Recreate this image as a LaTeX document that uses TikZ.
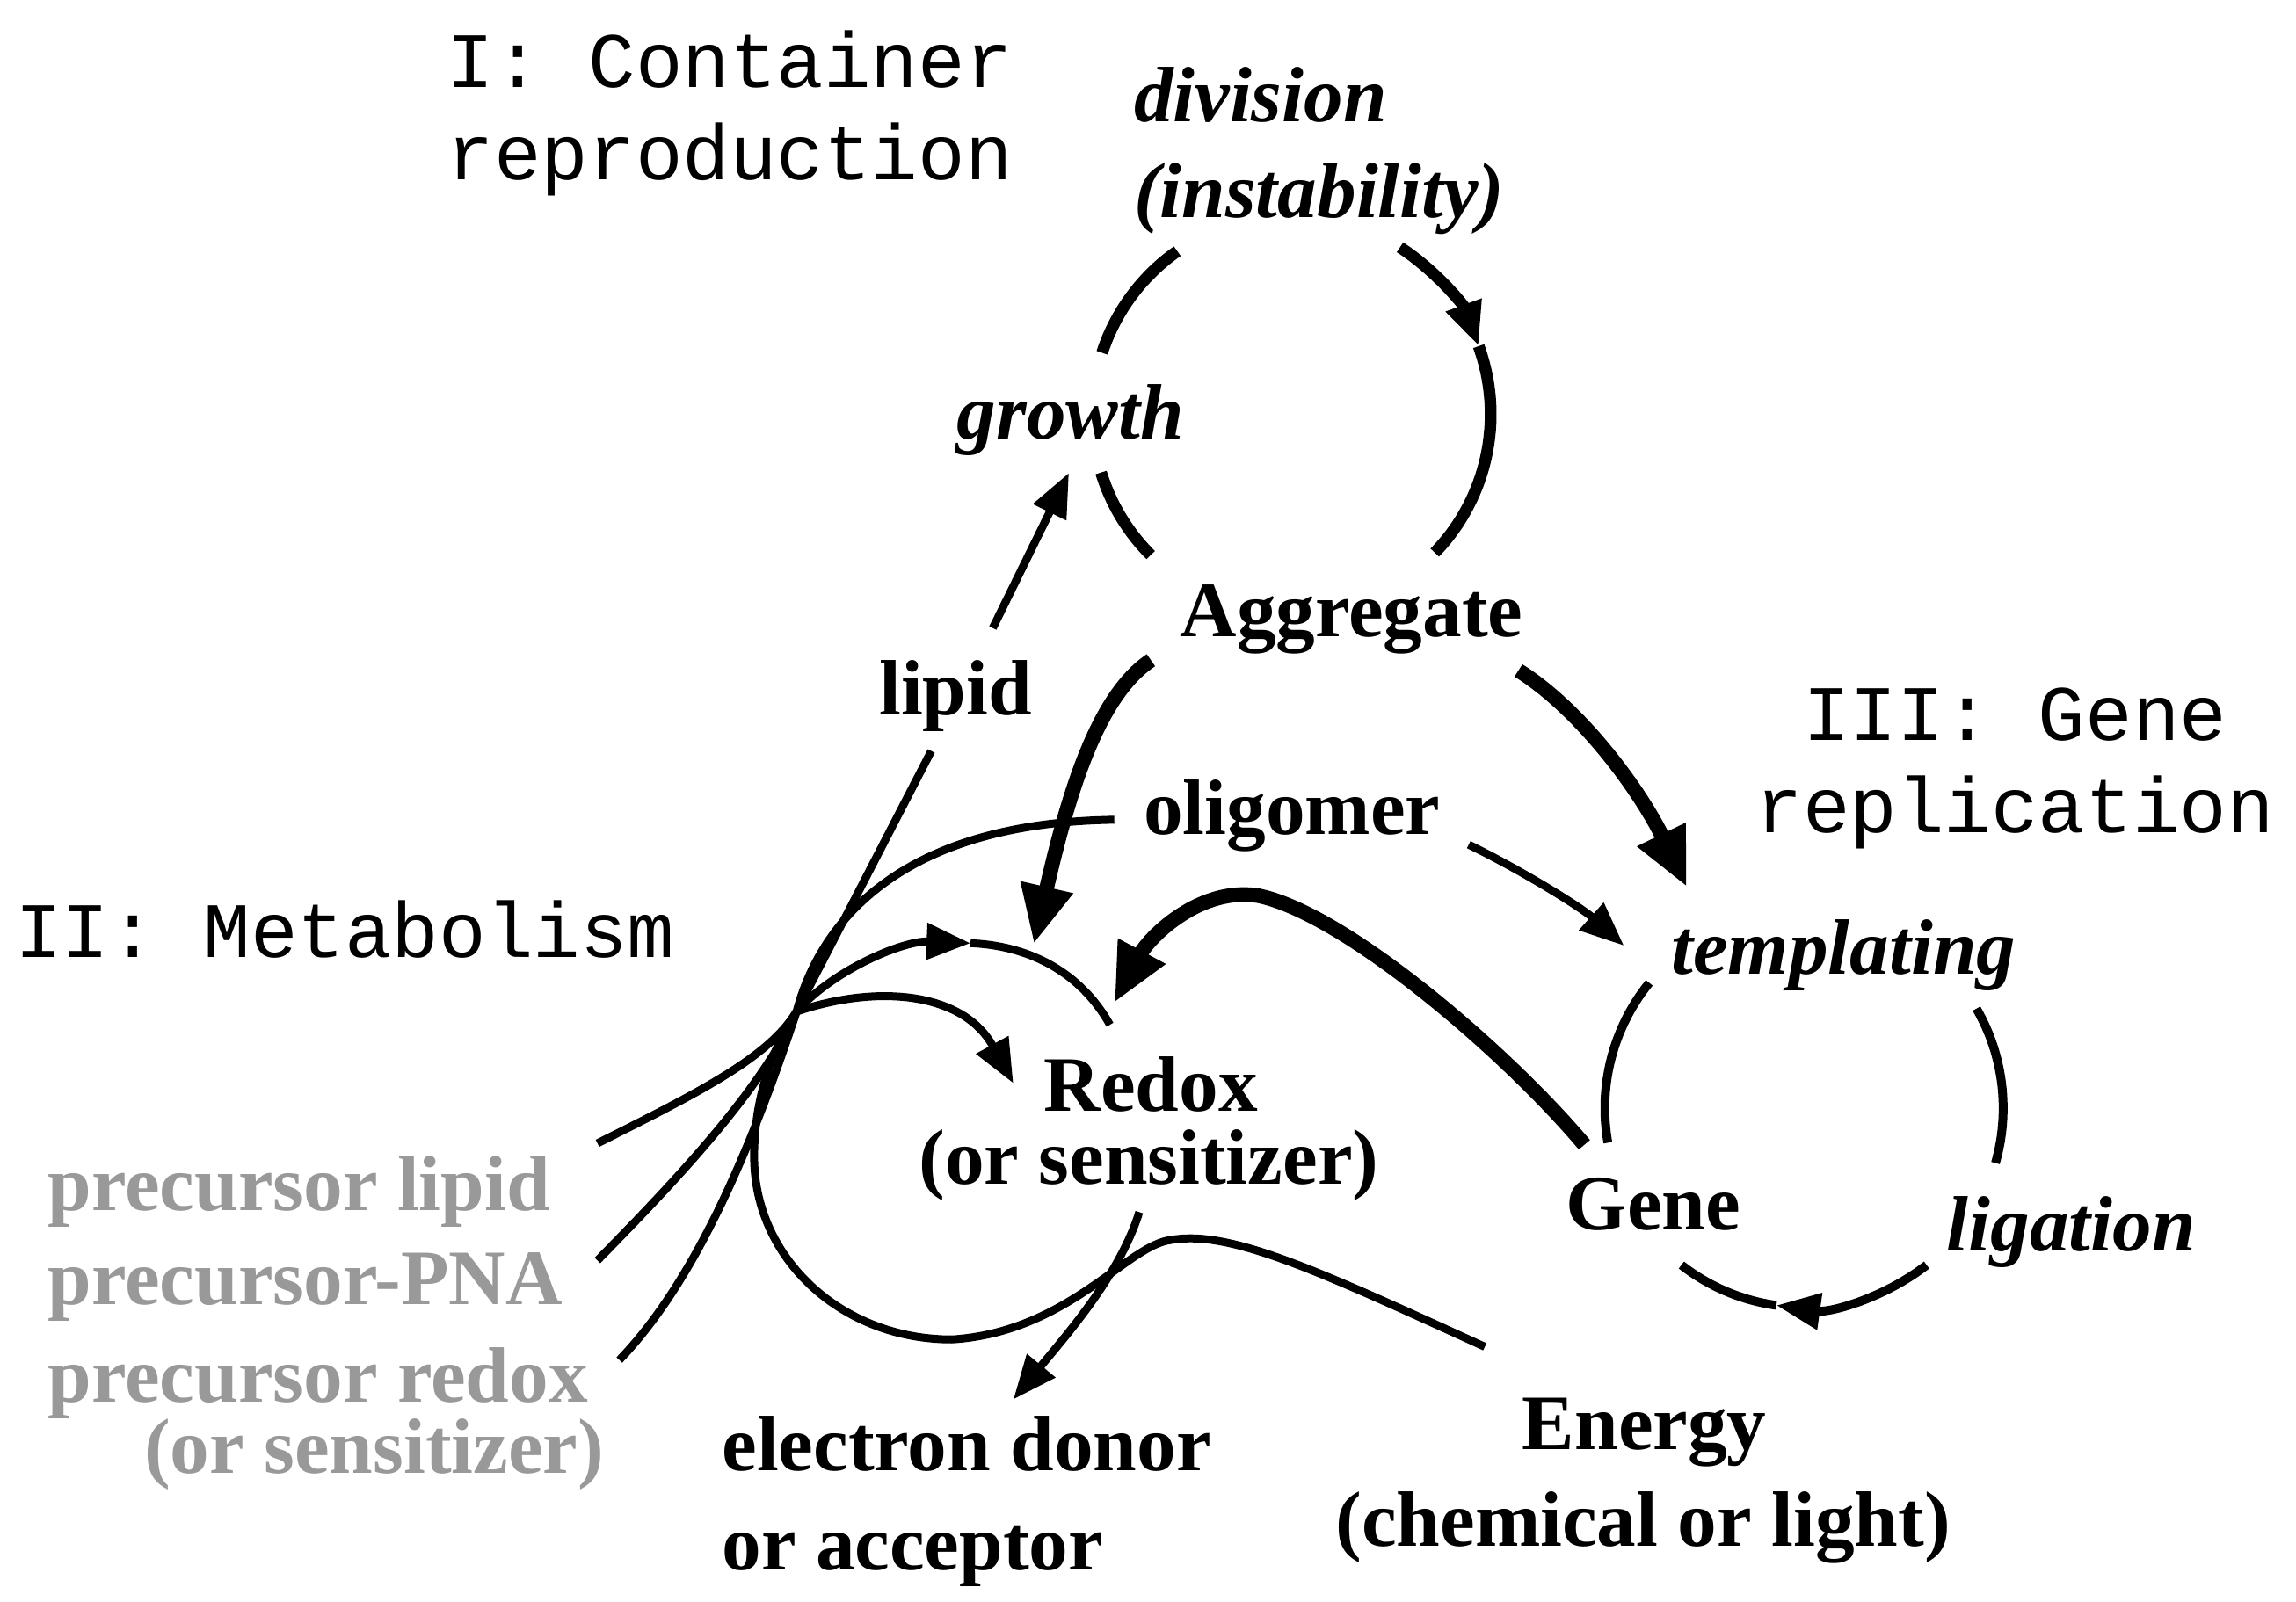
\documentclass[tikz,border=0pt]{standalone}
\usepackage{fontspec}
\setmainfont{Liberation Serif}
\setmonofont{Liberation Mono}
\usepackage{xcolor}
\usepackage{tikz}
\usetikzlibrary{arrows.meta}
\usetikzlibrary{positioning}

\definecolor{precgray}{gray}{0.6}

\begin{document}
\begin{tikzpicture}[
    x=0.5pt, y=-0.5pt,
    lbl/.style={font=\fontsize{26.8}{31}\selectfont\bfseries, inner sep=0pt, anchor=base},
    act/.style={lbl, font=\fontsize{26.8}{31}\selectfont\bfseries\itshape},
    stage/.style={font=\fontsize{26.8}{31}\selectfont\ttfamily, inner sep=0pt, anchor=base west},
    prec/.style={lbl, text=precgray, anchor=base west},
    link/.style={line width=2.7pt},
    cyc/.style={line width=4pt},
    gcyc/.style={line width=3pt},
    heavy/.style={line width=5pt},
    tip/.style={-{Triangle[length=15pt,width=12pt]}},
    bigtip/.style={-{Triangle[length=20pt,width=17pt]}}
    ]
\useasboundingbox (0,0) rectangle (1568,1093.8);

% stage titles
\node[stage] (st1a) at (305,60) {I: Container};
\node[stage] (st1b) at (305,122.5) {reproduction};
\node[stage] (st2) at (10,654) {II: Metabolism};
\node[stage, anchor=base] (st3a) at (1376,506) {III: Gene};
\node[stage, anchor=base] (st3b) at (1376,568.5) {replication};

% labels
\node[act, anchor=base west] (div1) at (774,83) {division};
\node[act, anchor=base west] (div2) at (774,148.6) {(instability)};
\node[act] (growth) at (731,300) {growth};
\node[lbl] (aggr) at (923,435) {Aggregate};
\node[lbl] (lipid) at (652.6,488.5) {lipid};
\node[lbl] (oligo) at (882.4,570) {oligomer};
\node[lbl] (redox1) at (786,759) {Redox};
\node[lbl] (redox2) at (784.5,809) {(or sensitizer)};
\node[act] (templ) at (1259,665.6) {templating};
\node[lbl] (gene) at (1129,840) {Gene};
\node[act] (ligat) at (1414.5,854.5) {ligation};
\node[lbl] (energy1) at (1123,990) {Energy};
\node[lbl] (energy2) at (1122,1056) {(chemical or light)};
\node[lbl, anchor=base west] (donor1) at (492.7,1004.7) {electron donor};
\node[lbl, anchor=base west] (donor2) at (492.7,1072.4) {or acceptor};
\node[prec] (prlipid) at (32.4,827) {precursor lipid};
\node[prec] (prpna) at (32.4,891.4) {precursor-PNA};
\node[prec] (prredox1) at (32.4,957.5) {precursor redox};
\node[prec, anchor=base east] (prredox2) at (413,1006.3) {(or sensitizer)};

% points
\coordinate (hub) at (544,691);
\coordinate (c1) at (882,283);
\coordinate (c3) at (1232,757);
\coordinate (pl) at (408,781);
\coordinate (pp) at (408,861);
\coordinate (pr) at (423,929);
\coordinate (lipidfoot) at (636,513);
\coordinate (lipidtop) at (678,429);
\coordinate (growthfoot) at (730,323);
\coordinate (oligofoot) at (761,560);
\coordinate (oligohead) at (1003,577);
\coordinate (templfoot) at (1109,646);
\coordinate (membtip) at (662.8,644.3);
\coordinate (membend) at (758,700);
\coordinate (redoxin) at (692,740);
\coordinate (redoxout) at (778,828);
\coordinate (donortop) at (692,956);
\coordinate (energyfoot) at (1014,920);
\coordinate (aggrleft) at (786,451);
\coordinate (aggrright) at (1037,458);
\coordinate (redoxtop) at (706,645);
\coordinate (templtop) at (1152,606);
\coordinate (genetop) at (1082,782);
\coordinate (redoxright) at (761,685);

% container cycle
\draw[cyc] ([shift={(198:136)}]c1) arc[start angle=198, end angle=235, radius=136];
\draw[cyc, tip] ([shift={(303:136)}]c1) arc[start angle=303, end angle=340, radius=136];
\draw[cyc] ([shift={(340:136)}]c1) arc[start angle=340, end angle=404, radius=136];
\draw[cyc] ([shift={(135:136)}]c1) arc[start angle=135, end angle=163, radius=136];

% gene cycle
\draw[gcyc] ([shift={(170:136)}]c3) arc[start angle=170, end angle=219, radius=136];
\draw[gcyc] ([shift={(-30:136)}]c3) arc[start angle=-30, end angle=16, radius=136];
\draw[gcyc, tip] ([shift={(52:136)}]c3) arc[start angle=52, end angle=98, radius=136];
\draw[gcyc] ([shift={(98:136)}]c3) arc[start angle=98, end angle=128, radius=136];

% metabolism
\draw[link] (pl) .. controls (480,745) and (525,722) .. (hub) -- (lipidfoot);
\draw[link] (pp) .. controls (460,808) and (520,745) .. (hub)
    .. controls (560,630) and (615,562) .. (oligofoot);
\draw[link] (pr) .. controls (470,880) and (508,800) .. (hub);
\draw[link, tip] (hub) .. controls (569,662.5) and (617,642.4) .. (membtip);
\draw[link] (membtip) .. controls (700.2,645.9) and (736.4,661.8) .. (membend);
\draw[link, tip] (hub) .. controls (600,672) and (658,678) .. (redoxin);
\draw[link] (energyfoot) .. controls (900,868) and (840,840) .. (800,847)
    .. controls (770,850) and (730,910) .. (650,915)
    .. controls (575,915) and (515,860) .. (515,790)
    .. controls (515,750) and (528,715) .. (hub);
\draw[link, tip] (redoxout) .. controls (765,870) and (730,910) .. (donortop);

% arrows between cycles
\draw[link, tip] (lipidtop) -- (growthfoot);
\draw[link, tip] (oligohead) .. controls (1040,595) and (1080,620) .. (templfoot);
\draw[heavy, bigtip] (aggrleft) .. controls (750,475) and (730,540) .. (redoxtop);
\draw[heavy, bigtip] (aggrright) .. controls (1080,485) and (1120,540) .. (templtop);
\draw[heavy, bigtip] (genetop) .. controls (1030,720) and (920,625) .. (860,612)
    .. controls (820,605) and (785,640) .. (redoxright);

\end{tikzpicture}
\end{document}
